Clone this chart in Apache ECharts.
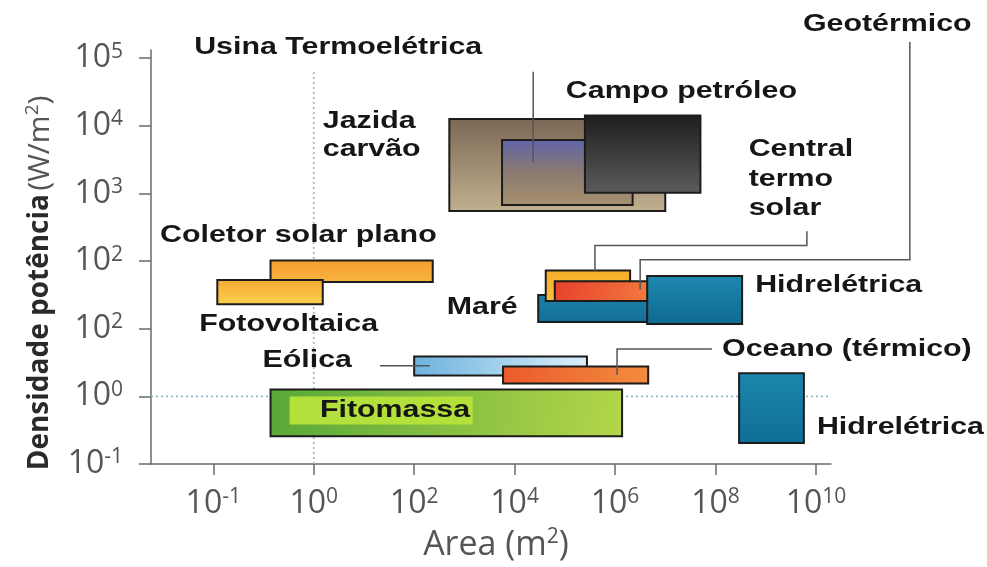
<!DOCTYPE html>
<html><head><meta charset="utf-8">
<script src="https://cdn.jsdelivr.net/npm/echarts@6/dist/echarts.min.js"></script>
<style>html,body{margin:0;padding:0;background:#fff}#c{width:987px;height:567px}</style>
</head><body><div id="c"></div>
<script>
// ---- tick labels (base, exponent) ----
const xTickLabels = [['10','-1'],['10','0'],['10','2'],['10','4'],['10','6'],['10','8'],['10','10']];
const yTickLabels = [['10','-1'],['10','0'],['10','2'],['10','2'],['10','3'],['10','4'],['10','5']];

// ---- sources ----
const categories = ['Jazida carvão','Usina Termoelétrica','Campo petróleo','Coletor solar plano','Fotovoltaica',
  'Maré','Central termo solar','Geotérmico','Hidrelétrica (grande)','Eólica','Oceano (térmico)','Fitomassa','Hidrelétrica (pequena)'];
// log10 of area (m²): min / max
const areaMinExp = [2.7, 3.75, 5.4, -0.43, -0.96, 4.47, 4.62, 4.8, 6.64, 2.0, 3.77, -0.43, 8.47];
const areaMaxExp = [7.0, 6.35, 7.7, 2.37, 0.18, 6.66, 6.3, 6.66, 8.53, 5.44, 6.66, 6.14, 9.76];
// log10 of power density (W/m²): min / max
const densMinExp = [2.74, 2.83, 3.01, 1.69, 1.36, 1.10, 1.41, 1.41, 1.07, 0.31, 0.19, -0.59, -0.69];
const densMaxExp = [4.10, 3.79, 4.15, 2.01, 1.72, 1.50, 1.86, 1.70, 1.78, 0.59, 0.44, 0.10, 0.34];

// ---- annotations (in log10 data space) ----
const labelTexts = ['Usina Termoelétrica','Jazida\ncarvão','Campo petróleo','Geotérmico','Central\ntermo\nsolar',
  'Coletor solar plano','Fotovoltaica','Maré','Hidrelétrica','Eólica','Oceano (térmico)','Fitomassa','Hidrelétrica'];
const labelAreaExp = [-1.19, 0.18, 5.02, 9.74, 8.66, -1.53, -1.14, 2.65, 8.79, -0.51, 8.13, -0.24, 10.02];
const labelDensExp = [5.15, 3.85, 4.51, 5.49, 3.21, 2.38, 1.06, 1.31, 1.64, 0.53, 0.69, -0.21, -0.46];
const leaders = [
  [[4.37,4.80],[4.37,3.46]],
  [[5.60,1.85],[5.60,2.23],[9.82,2.23],[9.82,2.44]],
  [[6.50,1.58],[6.50,2.02],[11.87,2.02],[11.87,5.24]],
  [[1.32,0.454],[2.31,0.454]],
  [[6.04,0.32],[6.04,0.70],[7.93,0.70]]
];
const refLines = [ [[0,-1],[0,4.8]], [[-1.62,0],[10.3,0]] ];

// x axis: 10^-1 -> 0, 10^0 -> 1, then one step per two decades
function xPos(e){ return e >= 0 ? 1 + e/2 : 1 + e; }

const G = echarts.graphic.LinearGradient;
const fills = [
  new G(0,0,0,1,[{offset:0,color:'#7b6754'},{offset:1,color:'#c0b08f'}]),
  new G(0,0,0,1,[{offset:0,color:'#5f63aa'},{offset:0.5,color:'#8a7a70'},{offset:1,color:'#a8916f'}]),
  new G(0,0,0,1,[{offset:0,color:'#1e1e1e'},{offset:1,color:'#5c5c5c'}]),
  new G(0,0,0,1,[{offset:0,color:'#f59f2e'},{offset:1,color:'#f8b443'}]),
  new G(0,0,0,1,[{offset:0,color:'#f5aa33'},{offset:1,color:'#fcd050'}]),
  new G(0,0,0,1,[{offset:0,color:'#1c82ab'},{offset:1,color:'#146e95'}]),
  new G(0,0,0,1,[{offset:0,color:'#f6ad2a'},{offset:1,color:'#f9c23c'}]),
  new G(0,0,1,1,[{offset:0,color:'#e6402d'},{offset:1,color:'#f37a3d'}]),
  new G(0,0,0,1,[{offset:0,color:'#1e88b0'},{offset:1,color:'#0f6a91'}]),
  new G(0,0,1,1,[{offset:0,color:'#6cb2de'},{offset:1,color:'#dcf0fa'}]),
  new G(0,0,1,0,[{offset:0,color:'#ec5a2c'},{offset:1,color:'#f28c3e'}]),
  new G(0,0,1,1,[{offset:0,color:'#58a838'},{offset:1,color:'#b4d64a'}]),
  new G(0,0,0,1,[{offset:0,color:'#1c86ad'},{offset:1,color:'#0f6e95'}])
];

const tickRich = {
  a:{fontFamily:'Open Sans', fontSize:32, color:'#555', lineHeight:34},
  s:{fontFamily:'Open Sans', fontSize:21, color:'#555', lineHeight:22, verticalAlign:'top'}
};
const ticks = [0,1,2,3,4,5,6];

const chart = echarts.init(document.getElementById('c'), null, {renderer:'canvas'});
chart.setOption({
  animation:false,
  backgroundColor:'#fff',
  grid:{left:151, right:156, top:50, bottom:100, containLabel:false},
  xAxis:{
    type:'value', min:-0.62, max:6.15,
    axisLine:{show:true, onZero:false, lineStyle:{color:'#6a6a6a', width:1.5}},
    axisTick:{show:true, length:11, customValues:ticks, lineStyle:{color:'#6a6a6a', width:1.5}},
    axisLabel:{customValues:ticks, margin:23,
      formatter:v=>{const t=xTickLabels[Math.round(v)]; return '{a|'+t[0]+'}{s|'+t[1]+'}';}, rich:tickRich},
    splitLine:{show:false},
    name:'{n|Area (m}{s|2}{n|)}', nameLocation:'middle', nameGap:63,
    nameTextStyle:{padding:[0,0,0,10], rich:{
      n:{fontFamily:'Open Sans', fontSize:34, color:'#555', lineHeight:36},
      s:{fontFamily:'Open Sans', fontSize:21, color:'#555', lineHeight:22, verticalAlign:'top'}}}
  },
  yAxis:{
    type:'value', min:-1, max:5.12,
    axisLine:{show:true, onZero:false, lineStyle:{color:'#6a6a6a', width:1.5}},
    axisTick:{show:true, length:12, customValues:ticks.map(t=>t-1), lineStyle:{color:'#6a6a6a', width:1.5}},
    axisLabel:{customValues:ticks.map(t=>t-1), margin:28,
      formatter:v=>{const t=yTickLabels[Math.round(v)+1]; return '{a|'+t[0]+'}{s|'+t[1]+'}';}, rich:tickRich},
    splitLine:{show:false},
    name:'{b|Densidade potência} {n|(W/m}{s|2}{n|)}', nameLocation:'middle', nameGap:94,
    nameTextStyle:{padding:[0,52,0,0], rich:{
      b:{fontFamily:'Open Sans', fontWeight:'bold', fontSize:28, color:'#2a2a2a', lineHeight:34},
      n:{fontFamily:'Open Sans', fontSize:30, color:'#555', lineHeight:34},
      s:{fontFamily:'Open Sans', fontSize:19, color:'#555', lineHeight:22, verticalAlign:'top'}}}
  },
  series:[
    { // dotted reference lines
      type:'custom', coordinateSystem:'cartesian2d', clip:false, z:1, silent:true,
      data: refLines.map((l,i)=>[xPos(l[0][0]), l[0][1], i]),
      renderItem(params, api){
        const l = refLines[params.dataIndex];
        const a = api.coord([xPos(l[0][0]), l[0][1]]), b = api.coord([xPos(l[1][0]), l[1][1]]);
        return {type:'line', shape:{x1:a[0],y1:a[1],x2:b[0],y2:b[1]},
          style:{stroke:'#86bcc6', lineWidth:1.6, lineDash:[2,3]}};
      }
    },
    { // source rectangles
      type:'custom', coordinateSystem:'cartesian2d', clip:false, z:2,
      data: categories.map((c,i)=>[xPos(areaMinExp[i]), xPos(areaMaxExp[i]), densMinExp[i], densMaxExp[i], i]),
      encode:{x:[0,1], y:[2,3]},
      renderItem(params, api){
        const p0 = api.coord([api.value(0), api.value(3)]);
        const p1 = api.coord([api.value(1), api.value(2)]);
        const i = api.value(4);
        return {type:'rect', shape:{x:p0[0], y:p0[1], width:p1[0]-p0[0], height:p1[1]-p0[1]},
          style:{fill:fills[i], stroke:'#1c1c1c', lineWidth:2}};
      }
    },
    { // leader lines
      type:'custom', coordinateSystem:'cartesian2d', clip:false, z:3, silent:true,
      data: leaders.map((l,i)=>[xPos(l[0][0]), l[0][1], i]),
      renderItem(params, api){
        const pts = leaders[params.dataIndex].map(p=>api.coord([xPos(p[0]), p[1]]));
        return {type:'polyline', shape:{points:pts}, style:{stroke:'#555', lineWidth:1.5, fill:null}};
      }
    },
    { // text labels
      type:'custom', coordinateSystem:'cartesian2d', clip:false, z:4, silent:true,
      data: labelTexts.map((t,i)=>[xPos(labelAreaExp[i]), labelDensExp[i], i]),
      renderItem(params, api){
        const i = params.dataIndex;
        const p = api.coord([xPos(labelAreaExp[i]), labelDensExp[i]]);
        const txt = labelTexts[i];
        const style = {text:txt, fontFamily:'Liberation Sans, Arial, sans-serif', fontWeight:'bold', fontSize:23,
          fill:'#161616', align:'left', verticalAlign:'middle', lineHeight: txt.indexOf('termo')>=0 ? 29.5 : 28};
        if (txt === 'Fitomassa') { style.backgroundColor = '#b4e03c'; style.padding = [2,2,2,23]; style.lineHeight = 24; }
        return {type:'text', x:p[0], y:p[1], scaleX:1.32, style:style};
      }
    }
  ]
});
</script>
</body></html>
